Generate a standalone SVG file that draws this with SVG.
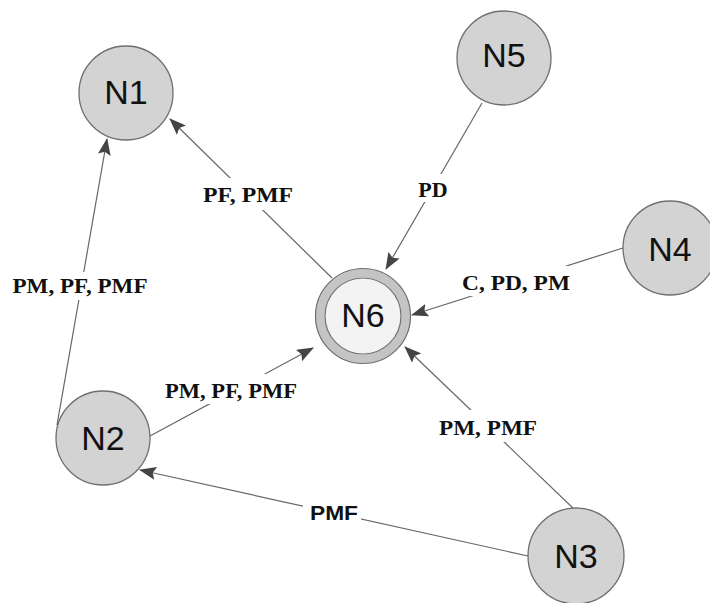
<svg xmlns="http://www.w3.org/2000/svg" width="710" height="603" viewBox="0 0 710 603">
<style>
.node circle{fill:#d3d3d3;stroke:#6f6f6f;stroke-width:1.3}
.nl{font-family:"Liberation Sans",Arial,sans-serif;font-size:34px;fill:#111;text-anchor:middle}
.edge{stroke:#666;stroke-width:1.2;fill:none;marker-end:url(#ah)}
.el{font-family:"Liberation Serif","Times New Roman",serif;font-weight:bold;font-size:22px;fill:#111;text-anchor:middle}
.els{font-family:"Liberation Sans",Arial,sans-serif;font-weight:bold;font-size:21px;fill:#111;text-anchor:middle}
.bg{fill:#fff}
</style>
<defs>
<marker id="ah" markerUnits="userSpaceOnUse" markerWidth="17" markerHeight="13" refX="16" refY="6.5" orient="auto">
<path d="M0,0 L17,6.5 L0,13 L3,6.5 Z" fill="#444"/>
</marker>
</defs>
<rect width="710" height="603" fill="#fff"/>
<g id="connectors">
<line class="edge" x1="332" y1="278" x2="170" y2="119"/>
<line class="edge" x1="57" y1="425" x2="107" y2="139"/>
<line class="edge" x1="150" y1="436" x2="313" y2="348"/>
<line class="edge" x1="482" y1="103" x2="386" y2="269"/>
<line class="edge" x1="623" y1="248" x2="412" y2="315"/>
<line class="edge" x1="575" y1="510" x2="405" y2="347"/>
<line class="edge" x1="528" y1="556" x2="140" y2="470"/>
</g>
<g id="labels">
<rect class="bg" x="198" y="178" width="100" height="32"/>
<text class="el" x="248" y="202" textLength="90" lengthAdjust="spacingAndGlyphs">PF, PMF</text>
<rect class="bg" x="10" y="272" width="140" height="28"/>
<text class="el" x="80" y="293" textLength="135" lengthAdjust="spacingAndGlyphs">PM, PF, PMF</text>
<rect class="bg" x="160" y="374" width="142" height="30"/>
<text class="el" x="231" y="398" textLength="132" lengthAdjust="spacingAndGlyphs">PM, PF, PMF</text>
<rect class="bg" x="414" y="174" width="40" height="28"/>
<text class="el" x="433" y="197">PD</text>
<rect class="bg" x="456" y="266" width="120" height="30"/>
<text class="el" x="516" y="290" textLength="108" lengthAdjust="spacingAndGlyphs">C, PD, PM</text>
<rect class="bg" x="434" y="410" width="108" height="32"/>
<text class="el" x="488" y="435" textLength="98" lengthAdjust="spacingAndGlyphs">PM, PMF</text>
<rect class="bg" x="303" y="500" width="58" height="24"/>
<text class="els" x="334" y="520" textLength="48" lengthAdjust="spacingAndGlyphs">PMF</text>
</g>
<g id="N1" class="node"><circle cx="126" cy="93" r="47"/><text class="nl" x="126" y="104">N1</text></g>
<g id="N2" class="node"><circle cx="103" cy="438" r="47"/><text class="nl" x="103" y="450">N2</text></g>
<g id="N3" class="node"><circle cx="576" cy="556" r="48"/><text class="nl" x="576" y="568">N3</text></g>
<g id="N4" class="node"><circle cx="670" cy="248" r="47"/><text class="nl" x="670" y="261">N4</text></g>
<g id="N5" class="node"><circle cx="504" cy="58" r="47"/><text class="nl" x="504" y="67">N5</text></g>
<g id="N6"><circle cx="363" cy="316" r="43" fill="none" stroke="#c4c4c4" stroke-width="9"/><circle cx="363" cy="316" r="47.5" fill="none" stroke="#6f6f6f" stroke-width="1.2"/><circle cx="363" cy="316" r="38" fill="#f3f3f3" stroke="#6f6f6f" stroke-width="1.2"/><text class="nl" x="363" y="327">N6</text></g>
</svg>
